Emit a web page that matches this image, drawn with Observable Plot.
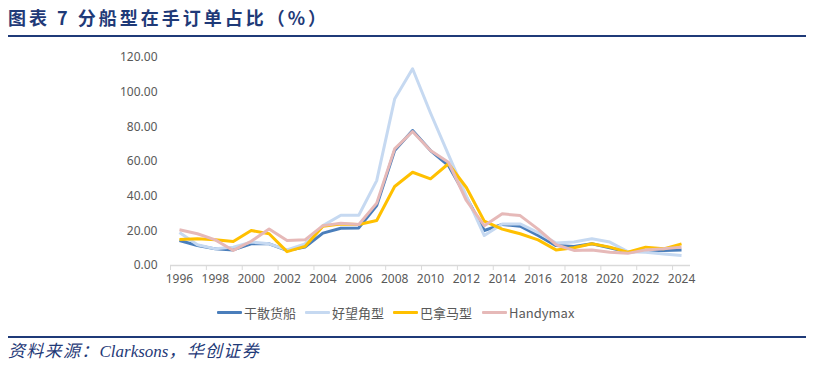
<!DOCTYPE html>
<html>
<head>
<meta charset="utf-8">
<script src="https://cdn.jsdelivr.net/npm/d3@7"></script>
<script src="https://cdn.jsdelivr.net/npm/@observablehq/plot@0.6"></script>
<style>
  html, body { margin: 0; padding: 0; background: #fff; }
  #wrap { position: relative; width: 814px; height: 366px; overflow: hidden; font-family: "Noto Sans", "Noto Sans CJK SC", sans-serif; }
  #title { position: absolute; left: 8px; top: 4px; font-family: "Noto Sans CJK SC", sans-serif; font-weight: 700; font-size: 18px; line-height: 26px; color: #1F3A78; white-space: nowrap; letter-spacing: 3px; }
  .rule { position: absolute; left: 8px; width: 798px; height: 2px; background: #1F3A78; }
  #chart { position: absolute; left: 0; top: 40px; }
  #legend { position: absolute; top: 302px; left: 0; width: 814px; height: 20px; }
  .item { position: absolute; top: 0; display: flex; align-items: center; height: 20px; font-size: 13px; color: #595959; font-family: "Noto Sans CJK SC", sans-serif; }
  .sw { width: 25px; height: 3px; margin-right: 2px; border-radius: 1px; }
  #source { position: absolute; left: 8px; top: 340px; font-size: 17px; line-height: 24px; font-style: italic; color: #1F3A78; font-family: "Liberation Serif", "Noto Sans CJK SC", serif; white-space: nowrap; }
  #source .cj { letter-spacing: 1.3px; }
</style>
</head>
<body>
<div id="wrap">
  <div id="title">图表 7 分船型在手订单占比（%）</div>
  <div class="rule" style="top:35px"></div>
  <div id="chart"></div>
  <div id="legend"></div>
  <div class="rule" style="top:336px"></div>
  <div id="source"><span class="cj">资料来源：</span>Clarksons<span class="cj">，华创证券</span></div>
</div>
<script>
const years = d3.range(1996, 2025);
const seriesNames = ["干散货船", "好望角型", "巴拿马型", "Handymax"];
const seriesColors = ["#4A7EBB", "#C6D9F1", "#FFC000", "#E6B9B8"];
const bulk     = [14.4, 11.5, 9.6, 9.0, 12.5, 12.5, 8.7, 10.6, 18.7, 21.5, 21.7, 34.6, 66.3, 77.9, 66.3, 57.7, 39.4, 20.2, 23.7, 22.7, 17.3, 11.5, 11.0, 12.5, 10.2, 7.7, 8.7, 8.7, 9.0];
const capesize = [19.0, 12.0, 9.6, 10.6, 13.5, 12.5, 9.0, 12.5, 23.0, 29.0, 29.0, 49.0, 96.0, 113.5, 88.0, 64.0, 40.0, 17.3, 24.0, 24.0, 19.0, 13.0, 13.5, 15.4, 13.5, 8.0, 7.7, 6.7, 5.8];
const panamax  = [15.0, 15.4, 14.8, 13.8, 20.2, 18.3, 8.0, 11.0, 22.7, 24.0, 23.7, 26.0, 45.6, 53.8, 50.0, 58.7, 45.0, 25.6, 21.0, 18.3, 14.8, 9.0, 10.2, 12.5, 10.6, 7.7, 10.6, 9.6, 12.5];
const handymax = [20.6, 18.3, 14.8, 8.7, 14.0, 21.0, 14.4, 14.8, 23.0, 24.4, 23.7, 36.0, 67.3, 77.3, 66.3, 59.6, 37.5, 23.0, 29.8, 28.8, 21.0, 12.0, 8.7, 9.0, 7.7, 7.0, 9.0, 9.6, 10.6];
const yTicks = [0, 20, 40, 60, 80, 100, 120];
const xLabels = d3.range(1996, 2025, 2);

const allSeries = [bulk, capesize, panamax, handymax];
const data = [];
allSeries.forEach((vals, s) => vals.forEach((v, i) => data.push({year: years[i], value: v, series: seriesNames[s]})));

const boundaries = d3.range(1995.5, 2024.6, 2);

const chart = Plot.plot({
  width: 814,
  height: 260,
  marginLeft: 170,
  marginRight: 124,
  marginTop: 17,
  marginBottom: 35,
  style: { fontFamily: "'Noto Sans', sans-serif", fontSize: "12px", color: "#595959", background: "transparent" },
  x: { domain: [1995.5, 2024.5] },
  y: { domain: [0, 120] },
  color: { domain: seriesNames, range: seriesColors },
  marks: [
    Plot.axisY({ ticks: yTicks, tickSize: 0, tickPadding: 13, tickFormat: d3.format(".2f"), label: null, fill: "#595959" }),
    Plot.axisX({ ticks: boundaries, tickSize: 5, tickFormat: () => "", label: null, stroke: "#D9D9D9" }),
    Plot.axisX({ ticks: xLabels, tickSize: 0, tickPadding: 9, tickFormat: d => String(d), label: null, fill: "#595959" }),
    Plot.ruleY([0], { stroke: "#D9D9D9", strokeWidth: 1.5 }),
    ...seriesNames.map(name => Plot.lineY(data.filter(d => d.series === name), {
      x: "year", y: "value", stroke: "series", strokeWidth: 3, strokeLinejoin: "round", strokeLinecap: "butt"
    }))
  ]
});
document.getElementById("chart").appendChild(chart);

const legend = document.getElementById("legend");
const lefts = [217, 305, 393, 482];
seriesNames.forEach((name, i) => {
  const it = document.createElement("div");
  it.className = "item";
  it.style.left = lefts[i] + "px";
  const sw = document.createElement("div");
  sw.className = "sw";
  sw.style.background = seriesColors[i];
  const tx = document.createElement("span");
  tx.textContent = name;
  it.appendChild(sw);
  it.appendChild(tx);
  legend.appendChild(it);
});
</script>
</body>
</html>
